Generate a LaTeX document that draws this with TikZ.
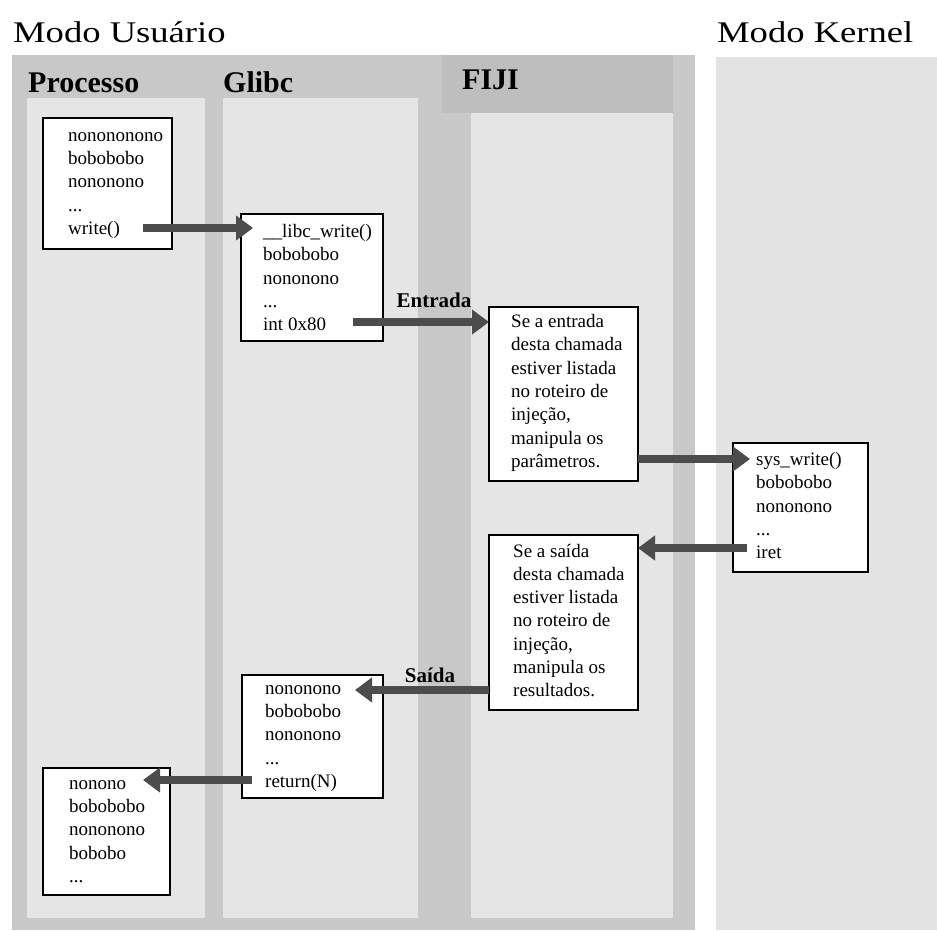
\documentclass[tikz,border=0pt]{standalone}
\usepackage{fontspec}
\setmainfont{Liberation Serif}
\newfontfamily\widefont[FakeStretch=1.22]{Liberation Serif}
\usetikzlibrary{arrows.meta,calc}

\definecolor{outergray}{HTML}{C8C8C8}
\definecolor{lanegray}{HTML}{E5E5E5}
\definecolor{headgray}{HTML}{BEBEBE}
\definecolor{kernelgray}{HTML}{E3E3E3}
\definecolor{arrowgray}{HTML}{4C4C4C}

\begin{document}
\begin{tikzpicture}[x=1pt,y=-1pt,
  modetitle/.style={inner sep=0pt, anchor=base west, font=\widefont\fontsize{30}{30}\selectfont},
  lanetitle/.style={inner sep=0pt, anchor=base west, font=\bfseries\fontsize{30}{30}\selectfont},
  codebox/.style={draw=black, line width=1.1pt, fill=white, anchor=north west, inner sep=0pt, outer sep=0pt},
  codetext/.style={inner sep=0pt, anchor=west, align=left, font=\fontsize{19}{23.3}\selectfont},
  flowlabel/.style={inner sep=0pt, anchor=base, font=\bfseries\fontsize{21}{21}\selectfont},
  flow/.style={draw=arrowgray, line width=7.5pt, -{Triangle[length=17pt,width=24pt]}}
]
\useasboundingbox (0,0) rectangle (937,930);

% user mode and kernel mode areas
\fill[outergray] (12,55) rectangle (695,930);
\fill[kernelgray] (716,57) rectangle (937,930);

% lanes
\fill[lanegray] (27,98) rectangle (205,918);
\fill[lanegray] (223,98) rectangle (418,918);
\fill[lanegray] (471,113) rectangle (673,918);
\fill[headgray] (442,55) rectangle (673,113);

% titles
\node[modetitle] (usermode) at (13,42) {Modo Usuário};
\node[modetitle] (kernelmode) at (717,42) {Modo Kernel};
\node[lanetitle] (processo) at (28,92) {Processo};
\node[lanetitle] (glibc) at (223,92) {Glibc};
\node[lanetitle] (fiji) at (462,89) {FIJI};

% code boxes
\node[codebox, minimum width=129pt, minimum height=131pt] (p1) at (43,118) {};
\node[codetext] (p1t) at ([xshift=25pt,yshift=-2pt]p1.west) {nonononono\\bobobobo\\nononono\\...\\write()};

\node[codebox, minimum width=142pt, minimum height=127pt] (g1) at (241,214) {};
\node[codetext] (g1t) at ([xshift=22pt]g1.west) {\_\_libc\_write()\\bobobobo\\nononono\\...\\int 0x80};

\node[codebox, minimum width=149pt, minimum height=174pt] (f1) at (489,307) {};
\node[codetext] (f1t) at ([xshift=22pt,yshift=1pt]f1.west) {Se a entrada\\desta chamada\\estiver listada\\no roteiro de\\injeção,\\manipula os\\parâmetros.};

\node[codebox, minimum width=135pt, minimum height=129pt] (k1) at (733,443) {};
\node[codetext] (k1t) at ([xshift=23pt,yshift=2pt]k1.west) {sys\_write()\\bobobobo\\nononono\\...\\iret};

\node[codebox, minimum width=149pt, minimum height=175pt] (s1) at (489,535) {};
\node[codetext] (s1t) at ([xshift=24pt,yshift=2pt]s1.west) {Se a saída\\desta chamada\\estiver listada\\no roteiro de\\injeção,\\manipula os\\resultados.};

\node[codebox, minimum width=141pt, minimum height=123pt] (g2) at (242,675) {};
\node[codetext] (g2t) at ([xshift=23pt,yshift=-2pt]g2.west) {nononono\\bobobobo\\nononono\\...\\return(N)};

\node[codebox, minimum width=127pt, minimum height=127pt] (p2) at (43,768) {};
\node[codetext] (p2t) at ([xshift=26pt]p2.west) {nonono\\bobobobo\\nononono\\bobobo\\...};

% start points of the connectors
\coordinate (c1) at ([xshift=-29pt,yshift=21pt]p1.south east);
\coordinate (c2) at ([xshift=-30pt,yshift=19pt]g1.south east);
\coordinate (c3) at ([yshift=22pt]f1.south east);
\coordinate (r1) at ([xshift=14pt,yshift=24pt]k1.south west);
\coordinate (r2) at ([yshift=20pt]s1.south west);
\coordinate (r3) at ([xshift=10pt,yshift=18pt]g2.south west);

% call path
\draw[flow] (c1) -- ($(c1 -| g1.west)+(12,0)$);
\draw[flow] (c2) -- (c2 -| f1.west);
\draw[flow] (c3) -- ($(c3 -| k1.west)+(17,0)$);
% return path
\draw[flow] (r1) -- (r1 -| s1.east);
\draw[flow] (r2) -- ($(r2 -| g2.east)+(-28,0)$);
\draw[flow] (r3) -- ($(r3 -| p2.east)+(-27,0)$);

\node[flowlabel] (entrada) at (434,307) {Entrada};
\node[flowlabel] (saida) at (430,682) {Saída};
\end{tikzpicture}
\end{document}
